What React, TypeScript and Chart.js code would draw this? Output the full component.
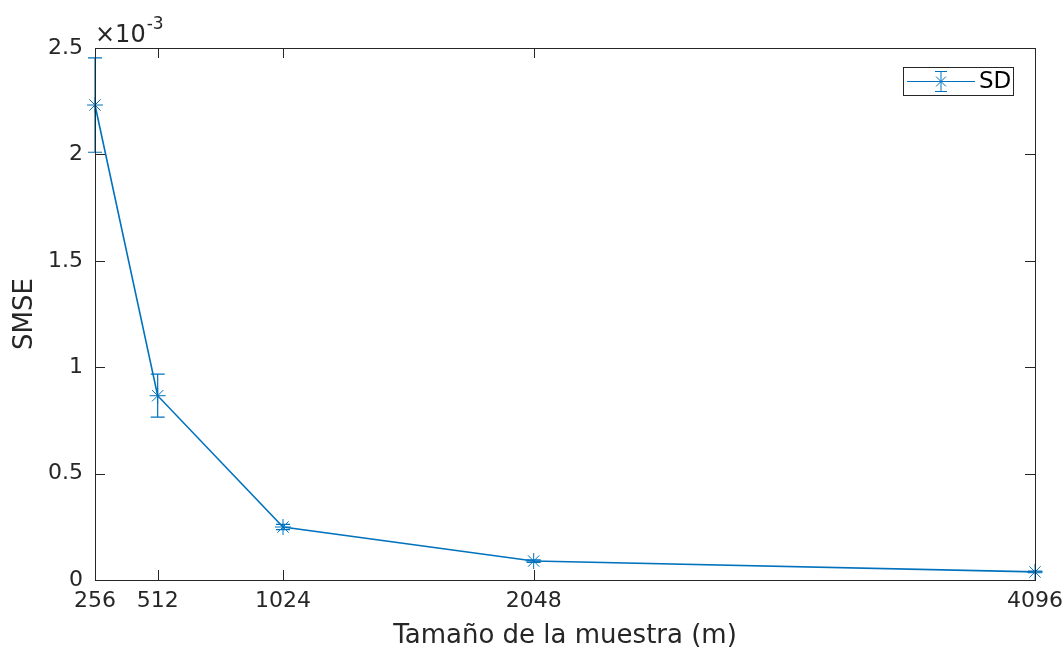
import React, { useEffect, useRef } from "react";
import { Chart, registerables } from "chart.js";

Chart.register(...registerables);

const sampleSizes = [256, 512, 1024, 2048, 4096];
const smseValues = [2.232, 0.866, 0.249, 0.089, 0.038]; // x10^-3
const smseErrors = [0.222, 0.101, 0.012, 0.006, 0.004]; // x10^-3
const xTickValues = [256, 512, 1024, 2048, 4096];
const yTickValues = [0, 0.5, 1, 1.5, 2, 2.5];
const yTickLabels = ["0", "0.5", "1", "1.5", "2", "2.5"];

const BLUE = "#0072BD";
const AXIS = "#262626";
const FONT = "'DejaVu Sans', sans-serif";

const boxPlugin = {
  id: "matlabBox",
  afterDatasetsDraw(chart: any) {
    const { ctx, scales } = chart;
    const xs = scales.x;
    const ys = scales.y;
    ctx.save();
    ctx.strokeStyle = BLUE;
    ctx.lineWidth = 1.2;
    sampleSizes.forEach((x, i) => {
      const px = xs.getPixelForValue(x);
      const top = ys.getPixelForValue(smseValues[i] + smseErrors[i]);
      const bot = ys.getPixelForValue(smseValues[i] - smseErrors[i]);
      const cap = 7;
      ctx.beginPath();
      ctx.moveTo(px, top);
      ctx.lineTo(px, bot);
      ctx.moveTo(px - cap, top);
      ctx.lineTo(px + cap, top);
      ctx.moveTo(px - cap, bot);
      ctx.lineTo(px + cap, bot);
      ctx.stroke();
    });
    ctx.restore();
  },
  afterDraw(chart: any) {
    const { ctx, chartArea, scales } = chart;
    const { left, right, top, bottom } = chartArea;
    const xs = scales.x;
    const ys = scales.y;
    ctx.save();
    ctx.strokeStyle = AXIS;
    ctx.lineWidth = 1;
    ctx.strokeRect(left + 0.5, top + 0.5, right - left, bottom - top);
    const tl = 10;
    ctx.beginPath();
    xTickValues.forEach((v) => {
      const px = Math.round(xs.getPixelForValue(v)) + 0.5;
      ctx.moveTo(px, bottom);
      ctx.lineTo(px, bottom - tl);
      ctx.moveTo(px, top);
      ctx.lineTo(px, top + tl);
    });
    yTickValues.forEach((v) => {
      const py = Math.round(ys.getPixelForValue(v)) + 0.5;
      ctx.moveTo(left, py);
      ctx.lineTo(left + tl, py);
      ctx.moveTo(right, py);
      ctx.lineTo(right - tl, py);
    });
    ctx.stroke();

    // exponent label
    ctx.fillStyle = AXIS;
    ctx.textBaseline = "alphabetic";
    ctx.textAlign = "left";
    ctx.font = `24px ${FONT}`;
    ctx.fillText("\u00d710", left, top - 6);
    const w = ctx.measureText("\u00d710").width;
    ctx.font = `17px ${FONT}`;
    ctx.fillText("-3", left + w + 1, top - 19);

    // legend
    const lx = 903, ly = 67, lw = 110, lh = 28;
    ctx.fillStyle = "#ffffff";
    ctx.fillRect(lx, ly, lw, lh);
    ctx.strokeStyle = AXIS;
    ctx.lineWidth = 1;
    ctx.strokeRect(lx + 0.5, ly + 0.5, lw, lh);
    const cy = ly + lh / 2 + 0.5;
    ctx.strokeStyle = BLUE;
    ctx.lineWidth = 1;
    ctx.beginPath();
    ctx.moveTo(907, cy);
    ctx.lineTo(975, cy);
    ctx.moveTo(941, cy - 10);
    ctx.lineTo(941, cy + 10);
    ctx.moveTo(935, cy - 10);
    ctx.lineTo(947, cy - 10);
    ctx.moveTo(935, cy + 10);
    ctx.lineTo(947, cy + 10);
    const r = 7;
    ctx.moveTo(941 - r, cy);
    ctx.lineTo(941 + r, cy);
    ctx.moveTo(941 - r * 0.7, cy - r * 0.7);
    ctx.lineTo(941 + r * 0.7, cy + r * 0.7);
    ctx.moveTo(941 - r * 0.7, cy + r * 0.7);
    ctx.lineTo(941 + r * 0.7, cy - r * 0.7);
    ctx.stroke();
    ctx.fillStyle = "#000000";
    ctx.font = `23px ${FONT}`;
    ctx.textBaseline = "middle";
    ctx.fillText("SD", 979, cy + 1);
    ctx.restore();
  },
};

export default function App() {
  const ref = useRef<HTMLCanvasElement>(null);
  useEffect(() => {
    if (!ref.current) return;
    const chart = new Chart(ref.current, {
      type: "line",
      data: {
        datasets: [
          {
            label: "SD",
            data: sampleSizes.map((x, i) => ({ x, y: smseValues[i] })),
            borderColor: BLUE,
            backgroundColor: BLUE,
            borderWidth: 1.6,
            pointStyle: "star",
            pointRadius: 8,
            pointBorderWidth: 1,
            pointBorderColor: BLUE,
            tension: 0,
            clip: false,
          },
        ],
      },
      options: {
        responsive: false,
        animation: false,
        layout: { padding: { top: 48, right: 29, left: 0, bottom: 0 } },
        plugins: { legend: { display: false }, tooltip: { enabled: false } },
        scales: {
          x: {
            type: "linear",
            min: 256,
            max: 4096,
            afterBuildTicks: (axis: any) => {
              axis.ticks = xTickValues.map((v) => ({ value: v }));
            },
            afterFit: (axis: any) => {
              axis.height = 69;
              axis.paddingLeft = 0;
              axis.paddingRight = 0;
            },
            grid: { display: false, drawTicks: false },
            border: { display: false },
            ticks: {
              color: AXIS,
              font: { family: FONT, size: 22 },
              padding: 8,
              maxRotation: 0,
              autoSkip: false,
              callback: (v: any) => String(v),
            },
            title: {
              display: true,
              text: "Tamaño de la muestra (m)",
              color: AXIS,
              font: { family: FONT, size: 26 },
              padding: { top: 0, bottom: -3 },
            },
          },
          y: {
            type: "linear",
            min: 0,
            max: 2.5,
            afterBuildTicks: (axis: any) => {
              axis.ticks = yTickValues.map((v) => ({ value: v }));
            },
            afterFit: (axis: any) => {
              axis.width = 95;
              axis.paddingTop = 0;
              axis.paddingBottom = 0;
            },
            grid: { display: false, drawTicks: false },
            border: { display: false },
            ticks: {
              color: AXIS,
              font: { family: FONT, size: 22 },
              padding: 12,
              callback: (v: any) => {
                const i = yTickValues.indexOf(Number(v));
                return i >= 0 ? yTickLabels[i] : "";
              },
            },
            title: {
              display: true,
              text: "SMSE",
              color: AXIS,
              font: { family: FONT, size: 26 },
              padding: { top: 10, bottom: 0 },
            },
          },
        },
      },
      plugins: [boxPlugin],
    });
    return () => chart.destroy();
  }, []);
  return (
    <div style={{ position: "absolute", left: 0, top: 0, width: 1064, height: 649, background: "#fff" }}>
      <canvas ref={ref} width={1064} height={649} />
    </div>
  );
}
